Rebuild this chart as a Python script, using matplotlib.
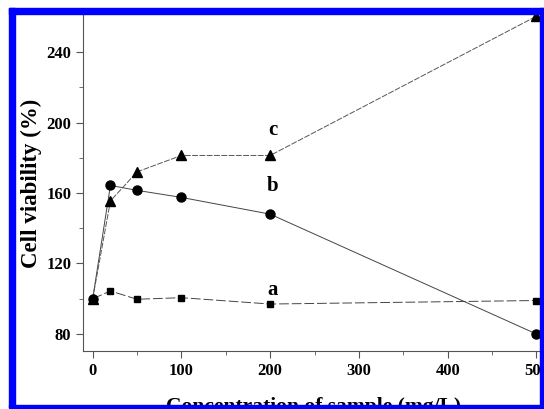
import matplotlib
matplotlib.use("Agg")
import matplotlib.pyplot as plt
from matplotlib.patches import Rectangle

conc = [0, 20, 50, 100, 200, 500]
series_a = [100, 104.4, 99.7, 100.6, 97, 99]
series_b = [100, 164.3, 161.5, 157.5, 148, 80]
series_c = [100, 155.5, 172, 181.3, 181.3, 260.3]
curve_labels = ["a", "b", "c"]
label_pos_y = [105, 164, 196]
xticks = [0, 100, 200, 300, 400, 500]
yticks = [80, 120, 160, 200, 240]

plt.rcParams['font.family'] = ['Liberation Serif', 'DejaVu Serif']
fig = plt.figure(figsize=(5.44, 4.09), dpi=100)
ax = fig.add_axes([83/544, 58/409, 1 - 83/544, (394-58)/409])

lw = 0.7
ax.plot(conc, series_a, color='#444444', lw=lw, ls=(0, (10, 3)), marker='s',
        ms=4.5, mfc='black', mec='black', clip_on=False, zorder=3)
ax.plot(conc, series_b, color='#444444', lw=lw, ls='-', marker='o',
        ms=6.5, mfc='black', mec='black', clip_on=False, zorder=3)
ax.plot(conc, series_c, color='#555555', lw=lw, ls=(0, (6, 1.5)), marker='^',
        ms=7, mfc='black', mec='black', clip_on=False, zorder=3)

for lab, yy in zip(curve_labels, label_pos_y):
    ax.text(203, yy, lab, fontsize=15, fontweight='bold', ha='center', va='center')

ax.set_xlim(-10.9, 508.6)
ax.set_ylim(70.35, 261)
ax.set_xticks(xticks)
ax.set_yticks(yticks)
ax.set_xticks([50, 150, 250, 350, 450], minor=True)
ax.set_yticks([100, 140, 180, 220], minor=True)
for s in ['top', 'right']:
    ax.spines[s].set_visible(False)
for s in ['left', 'bottom']:
    ax.spines[s].set_color('#555555')
    ax.spines[s].set_linewidth(0.8)
ax.tick_params(which='major', direction='out', length=5, width=0.8, color='#555555',
               labelsize=12)
ax.tick_params(which='minor', direction='out', length=3, width=0.6, color='#555555')
for t in ax.get_xticklabels() + ax.get_yticklabels():
    t.set_fontweight('bold')
ax.set_xlabel('Concentration of sample (mg/L)', fontsize=15.5, fontweight='bold', labelpad=13)
ax.set_ylabel('Cell viability (%)', fontsize=16.5, fontweight='bold', labelpad=3)

blue = '#0000ff'
W, H = 544, 409
def rect(x0, y0, x1, y1):
    fig.patches.append(Rectangle((x0/W, 1 - y1/H), (x1-x0)/W, (y1-y0)/H,
                                 transform=fig.transFigure, color=blue, zorder=10))
rect(9, 8, 15, 407)      # left thick bar
rect(9, 8, 544, 13.5)    # top bar
rect(540, 8, 542.5, 407) # right line
rect(9, 405, 544, 407.5) # bottom line
fig.patches.append(Rectangle((542.5/W, 0), 2/W, 1, transform=fig.transFigure,
                             color='white', zorder=9))
fig.patches.append(Rectangle((0, 0), 1, 1.5/H, transform=fig.transFigure,
                             color='white', zorder=9))

fig.savefig('out.png', dpi=100)
